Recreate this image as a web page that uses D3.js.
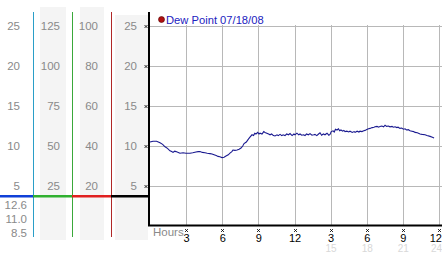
<!DOCTYPE html>
<html><head><meta charset="utf-8">
<script src="https://cdn.jsdelivr.net/npm/d3@7/dist/d3.min.js"></script>
<style>html,body{margin:0;padding:0;background:#fff}svg{display:block}</style>
</head><body><svg id="c" width="442" height="253"></svg>
<script>
// ---- data ----
const legendLabel = "Dew Point 07/18/08";
const hourTicks = [3, 6, 9, 12, 15, 18, 21, 24];
const hourLabels = ["3", "6", "9", "12", "3", "6", "9", "12"];
const hourLabels24 = ["", "", "", "", "15", "18", "21", "24"];
const yTicks = [5, 10, 15, 20, 25];
const col1Labels = ["5", "10", "15", "20", "25"];
const col2Labels = ["25", "50", "75", "100", "125"];
const col3Labels = ["20", "40", "60", "80", "100"];
const col4Labels = ["5", "10", "15", "20", "25"];
const statLabels = ["12.6", "11.0", "8.5"];
const dewHours = [0.00,0.25,0.55,0.83,1.05,1.25,1.45,1.66,1.80,1.91,2.05,2.16,2.35,2.49,2.75,2.99,3.32,3.55,3.82,4.00,4.15,4.35,4.57,4.75,4.98,5.15,5.32,5.50,5.65,5.80,5.98,6.15,6.31,6.50,6.64,6.80,6.89,7.05,7.23,7.40,7.56,7.70,7.81,8.00,8.14,8.30,8.47,8.60,8.70,8.80,8.95,9.05,9.14,9.30,9.45,9.55,9.70,9.85,9.97,10.10,10.25,10.38,10.55,10.65,10.80,10.95,11.05,11.21,11.35,11.50,11.63,11.80,11.95,12.04,12.20,12.35,12.46,12.60,12.75,12.87,13.00,13.15,13.29,13.45,13.60,13.70,13.85,14.00,14.12,14.25,14.40,14.53,14.70,14.85,14.95,15.05,15.20,15.30,15.40,15.53,15.65,15.75,15.86,16.00,16.10,16.20,16.35,16.50,16.61,16.80,16.95,17.03,17.20,17.35,17.44,17.60,17.75,17.86,18.00,18.15,18.27,18.45,18.60,18.69,18.85,19.00,19.10,19.25,19.40,19.52,19.65,19.80,19.93,20.10,20.20,20.35,20.50,20.60,20.76,20.90,21.05,21.18,21.30,21.45,21.59,21.75,21.90,22.01,22.20,22.43,22.60,22.84,23.00,23.26,23.45,23.59];
const dewValues = [10.5,10.6,10.6,10.4,10.2,9.9,9.7,9.4,9.3,9.2,9.35,9.3,9.2,9.1,9.15,9.1,9.1,9.15,9.25,9.3,9.3,9.2,9.15,9.1,9.05,9.0,8.9,8.8,8.7,8.65,8.55,8.6,8.75,8.9,9.1,9.3,9.5,9.45,9.5,9.6,9.75,10.0,10.3,10.5,10.8,11.1,11.4,11.3,11.6,11.5,11.7,11.5,11.6,11.5,11.8,11.7,11.6,11.5,11.4,11.5,11.3,11.25,11.4,11.3,11.45,11.3,11.4,11.3,11.5,11.4,11.55,11.3,11.5,11.4,11.6,11.4,11.5,11.35,11.4,11.3,11.5,11.4,11.55,11.35,11.4,11.45,11.3,11.5,11.65,11.35,11.5,11.4,11.6,11.35,11.45,11.8,11.9,11.75,12.1,12.0,12.15,11.9,12.0,11.85,11.95,11.8,11.85,11.75,11.85,11.7,11.8,11.7,11.85,11.75,11.85,11.8,11.9,11.95,12.05,12.15,12.2,12.3,12.35,12.4,12.45,12.35,12.45,12.5,12.4,12.6,12.45,12.5,12.4,12.45,12.35,12.4,12.3,12.35,12.2,12.25,12.1,12.15,12.0,12.05,11.9,11.85,11.8,11.7,11.65,11.5,11.45,11.4,11.3,11.2,11.1,11.0];

// ---- drawing ----
const svg = d3.select("#c");
const font = "'Liberation Sans', Arial, sans-serif";
const y = d3.scaleLinear().domain([0, 25]).range([226, 26]);
const x = d3.scaleLinear().domain([0, 24]).range([150, 439]);

// gray columns
[[40, 7, 26], [80, 7, 24], [115, 15, 33]].forEach(([x0, y0, w]) => {
  svg.append("rect").attr("x", x0).attr("y", y0).attr("width", w).attr("height", 240 - y0).attr("fill", "#f4f4f4");
});

// column labels
function colLabels(labels, rightX) {
  svg.append("g").selectAll("text").data(labels).join("text")
    .attr("x", rightX).attr("y", (d, i) => y(yTicks[i]) + 4)
    .attr("text-anchor", "end").attr("font-family", font).attr("font-size", 11.5)
    .attr("fill", "#8a8a8a").text(d => d);
}
colLabels(col1Labels, 20);
colLabels(col2Labels, 60);
colLabels(col3Labels, 98);
colLabels(col4Labels, 137);

svg.append("g").selectAll("text").data(statLabels).join("text")
  .attr("x", 27).attr("y", (d, i) => 209 + i * 14)
  .attr("text-anchor", "end").attr("font-family", font).attr("font-size", 11.5)
  .attr("fill", "#8a8a8a").text(d => d);

// colored vertical separators
[[33, "#2a9ec8"], [72, "#3aa83a"], [111, "#b02828"]].forEach(([xx, c]) => {
  svg.append("line").attr("x1", xx + 0.5).attr("x2", xx + 0.5).attr("y1", 12).attr("y2", 237)
    .attr("stroke", c).attr("stroke-width", 1);
});
// colored horizontal bar
[[0, 33, "#1040d8"], [33, 72, "#30b030"], [72, 111, "#e02020"], [111, 149, "#000"]].forEach(([a, b, c]) => {
  svg.append("rect").attr("x", a).attr("y", 195).attr("width", b - a + 1).attr("height", 2.5).attr("fill", c);
});

// grid
svg.append("g").selectAll("line").data(yTicks).join("line")
  .attr("x1", 150).attr("x2", 442).attr("y1", d => Math.round(y(d)) + 0.5).attr("y2", d => Math.round(y(d)) + 0.5)
  .attr("stroke", "#b8b8b8");
svg.append("g").selectAll("line").data(hourTicks).join("line")
  .attr("x1", d => Math.round(x(d)) + 0.5).attr("x2", d => Math.round(x(d)) + 0.5).attr("y1", 25).attr("y2", 226)
  .attr("stroke", "#b8b8b8");

// axes
svg.append("rect").attr("x", 148).attr("y", 12).attr("width", 2).attr("height", 214).attr("fill", "#000");
svg.append("rect").attr("x", 148).attr("y", 224.5).attr("width", 294).attr("height", 2).attr("fill", "#000");

// tiny tick marks
const mark = "M-1.5,-1.5L1.5,1.5M-1.5,1.5L1.5,-1.5";
svg.append("g").selectAll("path").data(yTicks).join("path")
  .attr("transform", d => `translate(146,${Math.round(y(d)) + 0.5})`).attr("d", mark)
  .attr("stroke", "#000").attr("stroke-width", 0.8).attr("fill", "none");
svg.append("g").selectAll("path").data(hourTicks).join("path")
  .attr("transform", d => `translate(${Math.round(x(d)) + 0.5},230.5)`).attr("d", mark)
  .attr("stroke", "#000").attr("stroke-width", 0.8).attr("fill", "none");

// hour labels
svg.append("text").attr("x", 153).attr("y", 236).attr("font-family", font).attr("font-size", 11.5)
  .attr("fill", "#8a8a8a").text("Hours");
const lastTick = hourTicks[hourTicks.length - 1];
const labX = d => d === lastTick ? 442 : x(d) + 0.5;
const labAnchor = d => d === lastTick ? "end" : "middle";
svg.append("g").selectAll("text").data(hourTicks).join("text")
  .attr("x", labX).attr("y", 242).attr("text-anchor", labAnchor)
  .attr("font-family", font).attr("font-size", 11).attr("fill", "#000")
  .text((d, i) => hourLabels[i]);
svg.append("g").selectAll("text").data(hourTicks).join("text")
  .attr("x", labX).attr("y", 252).attr("text-anchor", labAnchor)
  .attr("font-family", font).attr("font-size", 10).attr("fill", "#d8d8d8")
  .text((d, i) => hourLabels24[i]);

// legend
svg.append("circle").attr("cx", 161.5).attr("cy", 19.5).attr("r", 3).attr("fill", "#b01010").attr("stroke", "#500000").attr("stroke-width", 0.6);
svg.append("text").attr("x", 166).attr("y", 23.5).attr("font-family", font).attr("font-size", 11.2)
  .attr("fill", "#1c22c0").text(legendLabel);

// line
const pts = dewHours.map((h, i) => [h, dewValues[i]]);
svg.append("path").datum(pts)
  .attr("d", d3.line().x(d => x(d[0])).y(d => y(d[1])))
  .attr("fill", "none").attr("stroke", "#1a1a90").attr("stroke-width", 1.1);
</script>
</body></html>
